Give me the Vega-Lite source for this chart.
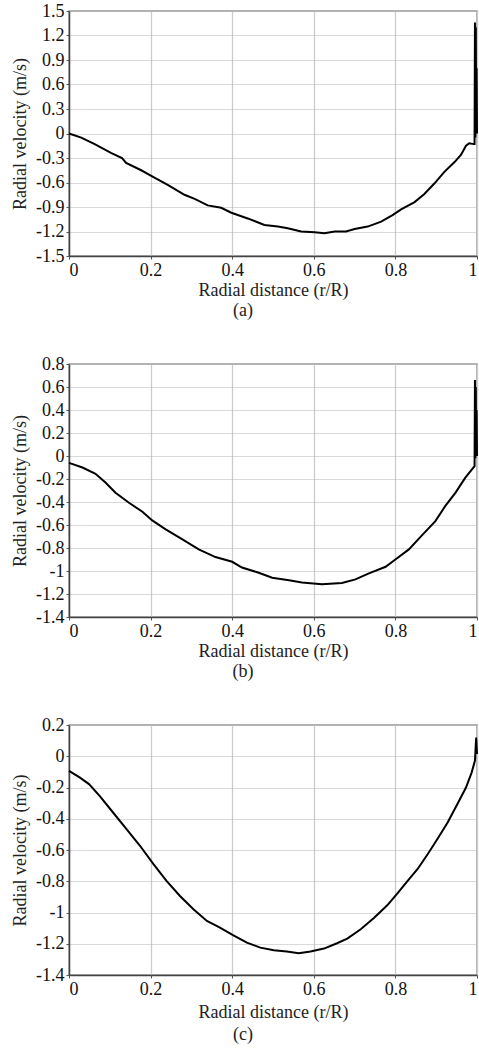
{
  "$schema": "https://vega.github.io/schema/vega-lite/v6.json",
  "padding": {"left": 10, "top": 1, "right": 3, "bottom": 0},
  "background": "white",
  "spacing": 33,
  "config": {
    "font": "Liberation Serif",
    "view": {"stroke": "#999", "strokeWidth": 1.5},
    "axis": {"domainColor": "#444", "domainWidth": 1.5, "tickColor": "#555", "tickSize": 3, "labelColor": "#111", "labelFont": "Liberation Serif", "labelFontSize": 18, "titleFont": "Liberation Serif", "titleFontSize": 18, "titleFontWeight": "normal", "titleColor": "#222", "labelPadding": 2, "labelExpr": "toString(datum.value)"},
    "axisX": {"gridColor": "#cccccc", "gridWidth": 1.3, "titlePadding": 2},
    "axisY": {"gridColor": "#b5b5b5", "gridDash": [1, 1], "gridWidth": 1, "titlePadding": 6},
    "title": {"font": "Liberation Serif", "fontSize": 18, "fontWeight": "normal", "color": "#222", "orient": "bottom", "anchor": "middle", "dx": -30, "offset": 3},
    "line": {"color": "black", "strokeWidth": 2}
  },
  "vconcat": [
    {
      "width": 408, "height": 245,
      "title": {"text": "(a)"},
      "data": {"values": [
        {"r": 0, "v": 0}, {"r": 0.03, "v": -0.05}, {"r": 0.063, "v": -0.13}, {"r": 0.104, "v": -0.24}, {"r": 0.13, "v": -0.3}, {"r": 0.14, "v": -0.36},
        {"r": 0.177, "v": -0.45}, {"r": 0.206, "v": -0.53}, {"r": 0.242, "v": -0.63}, {"r": 0.283, "v": -0.75}, {"r": 0.308, "v": -0.8},
        {"r": 0.34, "v": -0.88}, {"r": 0.373, "v": -0.91}, {"r": 0.398, "v": -0.97}, {"r": 0.438, "v": -1.04}, {"r": 0.479, "v": -1.12},
        {"r": 0.512, "v": -1.14}, {"r": 0.536, "v": -1.16}, {"r": 0.569, "v": -1.2}, {"r": 0.602, "v": -1.21}, {"r": 0.626, "v": -1.22},
        {"r": 0.651, "v": -1.2}, {"r": 0.679, "v": -1.2}, {"r": 0.7, "v": -1.17}, {"r": 0.732, "v": -1.14}, {"r": 0.765, "v": -1.08},
        {"r": 0.793, "v": -1.0}, {"r": 0.814, "v": -0.93}, {"r": 0.847, "v": -0.84}, {"r": 0.871, "v": -0.74}, {"r": 0.896, "v": -0.61},
        {"r": 0.92, "v": -0.47}, {"r": 0.945, "v": -0.35}, {"r": 0.961, "v": -0.26}, {"r": 0.973, "v": -0.15}, {"r": 0.981, "v": -0.12},
        {"r": 0.992, "v": -0.13}, {"r": 0.994, "v": -0.13}, {"r": 0.995, "v": 1.36}, {"r": 0.996, "v": -0.05}, {"r": 0.997, "v": 1.3},
        {"r": 0.998, "v": 0}, {"r": 0.999, "v": 0.8}, {"r": 1.0, "v": 0}
      ]},
      "mark": {"type": "line"},
      "encoding": {
        "x": {"field": "r", "type": "quantitative", "scale": {"domain": [0, 1], "nice": false}, "axis": {"values": [0, 0.2, 0.4, 0.6, 0.8, 1], "title": "Radial distance (r/R)"}},
        "y": {"field": "v", "type": "quantitative", "scale": {"domain": [-1.5, 1.5], "nice": false}, "axis": {"values": [-1.5, -1.2, -0.9, -0.6, -0.3, 0, 0.3, 0.6, 0.9, 1.2, 1.5], "title": "Radial velocity (m/s)"}}
      }
    },
    {
      "width": 408, "height": 253,
      "title": {"text": "(b)"},
      "data": {"values": [
        {"r": 0, "v": -0.06}, {"r": 0.033, "v": -0.1}, {"r": 0.065, "v": -0.155}, {"r": 0.09, "v": -0.233}, {"r": 0.114, "v": -0.32},
        {"r": 0.147, "v": -0.407}, {"r": 0.18, "v": -0.485}, {"r": 0.204, "v": -0.56}, {"r": 0.237, "v": -0.638}, {"r": 0.278, "v": -0.725},
        {"r": 0.318, "v": -0.812}, {"r": 0.359, "v": -0.879}, {"r": 0.4, "v": -0.92}, {"r": 0.424, "v": -0.97}, {"r": 0.465, "v": -1.015},
        {"r": 0.498, "v": -1.058}, {"r": 0.539, "v": -1.08}, {"r": 0.571, "v": -1.1}, {"r": 0.62, "v": -1.116}, {"r": 0.669, "v": -1.104},
        {"r": 0.702, "v": -1.073}, {"r": 0.735, "v": -1.02}, {"r": 0.776, "v": -0.963}, {"r": 0.8, "v": -0.9}, {"r": 0.833, "v": -0.812},
        {"r": 0.865, "v": -0.69}, {"r": 0.898, "v": -0.566}, {"r": 0.922, "v": -0.436}, {"r": 0.947, "v": -0.32}, {"r": 0.971, "v": -0.19},
        {"r": 0.994, "v": -0.089}, {"r": 0.995, "v": 0.66}, {"r": 0.996, "v": -0.02}, {"r": 0.997, "v": 0.6}, {"r": 0.998, "v": 0.0},
        {"r": 0.999, "v": 0.4}, {"r": 1.0, "v": 0.0}
      ]},
      "mark": {"type": "line"},
      "encoding": {
        "x": {"field": "r", "type": "quantitative", "scale": {"domain": [0, 1], "nice": false}, "axis": {"values": [0, 0.2, 0.4, 0.6, 0.8, 1], "title": "Radial distance (r/R)"}},
        "y": {"field": "v", "type": "quantitative", "scale": {"domain": [-1.4, 0.8], "nice": false}, "axis": {"values": [-1.4, -1.2, -1, -0.8, -0.6, -0.4, -0.2, 0, 0.2, 0.4, 0.6, 0.8], "title": "Radial velocity (m/s)"}}
      }
    },
    {
      "width": 408, "height": 250,
      "title": {"text": "(c)", "offset": 5},
      "data": {"values": [
        {"r": 0, "v": -0.093}, {"r": 0.026, "v": -0.135}, {"r": 0.049, "v": -0.178}, {"r": 0.075, "v": -0.253}, {"r": 0.108, "v": -0.36},
        {"r": 0.141, "v": -0.467}, {"r": 0.174, "v": -0.573}, {"r": 0.207, "v": -0.69}, {"r": 0.239, "v": -0.798}, {"r": 0.272, "v": -0.894},
        {"r": 0.305, "v": -0.979}, {"r": 0.338, "v": -1.054}, {"r": 0.37, "v": -1.097}, {"r": 0.403, "v": -1.146}, {"r": 0.436, "v": -1.193},
        {"r": 0.469, "v": -1.225}, {"r": 0.502, "v": -1.242}, {"r": 0.534, "v": -1.25}, {"r": 0.563, "v": -1.261}, {"r": 0.592, "v": -1.25},
        {"r": 0.625, "v": -1.231}, {"r": 0.657, "v": -1.197}, {"r": 0.682, "v": -1.167}, {"r": 0.715, "v": -1.107}, {"r": 0.748, "v": -1.033},
        {"r": 0.78, "v": -0.954}, {"r": 0.805, "v": -0.877}, {"r": 0.83, "v": -0.798}, {"r": 0.854, "v": -0.723}, {"r": 0.879, "v": -0.627},
        {"r": 0.903, "v": -0.53}, {"r": 0.928, "v": -0.424}, {"r": 0.952, "v": -0.306}, {"r": 0.973, "v": -0.2}, {"r": 0.987, "v": -0.103},
        {"r": 0.995, "v": -0.028}, {"r": 0.998, "v": 0.12}, {"r": 1.0, "v": 0.014}
      ]},
      "mark": {"type": "line"},
      "encoding": {
        "x": {"field": "r", "type": "quantitative", "scale": {"domain": [0, 1], "nice": false}, "axis": {"values": [0, 0.2, 0.4, 0.6, 0.8, 1], "title": "Radial distance (r/R)", "titlePadding": 5}},
        "y": {"field": "v", "type": "quantitative", "scale": {"domain": [-1.4, 0.2], "nice": false}, "axis": {"values": [-1.4, -1.2, -1, -0.8, -0.6, -0.4, -0.2, 0, 0.2], "title": "Radial velocity (m/s)"}}
      }
    }
  ]
}
